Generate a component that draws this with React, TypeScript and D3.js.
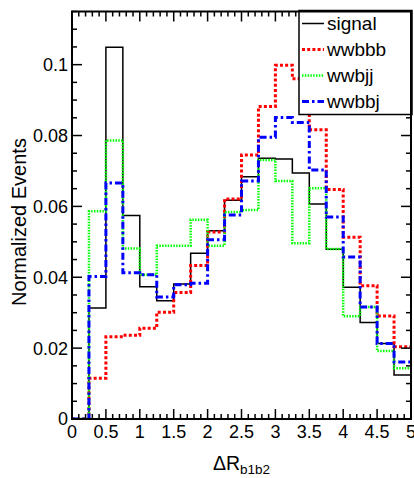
import React from "react";
import * as d3 from "d3";

const binEdges = [0, 0.25, 0.5, 0.75, 1, 1.25, 1.5, 1.75, 2, 2.25, 2.5, 2.75, 3, 3.25, 3.5, 3.75, 4, 4.25, 4.5, 4.75, 5];

const signal = [0, 0.0313, 0.1049, 0.0574, 0.0373, 0.0334, 0.0381, 0.0468, 0.0531, 0.0617, 0.0684, 0.0736, 0.0734, 0.0694, 0.0607, 0.0479, 0.0372, 0.0272, 0.0213, 0.0124];
const wwbbb = [0, 0.0115, 0.0232, 0.0236, 0.0256, 0.0301, 0.0357, 0.0433, 0.0528, 0.0621, 0.0745, 0.0882, 0.0998, 0.096, 0.0816, 0.0648, 0.0513, 0.0376, 0.0291, 0.0204];
const wwbjj = [0, 0.0586, 0.0786, 0.0481, 0.0407, 0.0489, 0.0489, 0.0562, 0.0489, 0.0584, 0.059, 0.0731, 0.0672, 0.0496, 0.0651, 0.048, 0.029, 0.0316, 0.0192, 0.0143];
const wwbbj = [0, 0.0402, 0.0666, 0.0413, 0.0407, 0.0344, 0.0379, 0.0383, 0.0506, 0.0576, 0.0672, 0.0795, 0.0851, 0.0837, 0.0703, 0.057, 0.0457, 0.0316, 0.0213, 0.0161];

const xTickLabels = ["0", "0.5", "1", "1.5", "2", "2.5", "3", "3.5", "4", "4.5", "5"];
const yTickLabels = ["0", "0.02", "0.04", "0.06", "0.08", "0.1"];

const seriesNames = ["signal", "wwbbb", "wwbjj", "wwbbj"];
const seriesData = [signal, wwbbb, wwbjj, wwbbj];

const styles = [
  { color: "#000000", width: 1.5, dash: "none" },
  { color: "#ff0000", width: 3, dash: "3 2.2" },
  { color: "#00ff00", width: 2.5, dash: "1.5 1.3" },
  { color: "#0000ff", width: 3, dash: "7 3 2.5 3" },
];

const W = 414;
const H = 478;
const X0 = 72, X1 = 411, Y0 = 419, Y1 = 11.5;
const FONT = "'Liberation Sans', Arial, Helvetica, sans-serif";

export default function App() {
  const x = d3.scaleLinear().domain([0, 5]).range([X0, X1]);
  const y = d3.scaleLinear().domain([0, 0.115]).range([Y0, Y1]);

  const line = d3
    .line<[number, number]>()
    .x((d) => x(d[0]))
    .y((d) => y(d[1]))
    .curve(d3.curveStepAfter);

  const paths = seriesData.map((vals) => {
    const pts: [number, number][] = vals.map((v, i) => [binEdges[i], v]);
    pts.push([binEdges[binEdges.length - 1], vals[vals.length - 1]]);
    return line(pts) || "";
  });

  const xMinor = d3.range(0, 51).map((i) => i / 10);
  const xMajor = xTickLabels.map((t) => +t);
  const yMinor = d3.range(0, 24).map((i) => i * 0.005).filter((v) => v <= 0.115);
  const yMajor = yTickLabels.map((t) => +t);

  const legX = 299, legY = 10.5, legW = 113, legH = 104;
  const legRows = [23.5, 49.5, 75.5, 101.5];

  return (
    <svg
      width={W}
      height={H}
      style={{ position: "absolute", left: 0, top: 0, background: "#fff" }}
      fontFamily={FONT}
    >
      <rect x={0} y={0} width={W} height={H} fill="#fff" />
      <defs>
        <clipPath id="plotclip">
          <rect x={X0} y={Y1} width={X1 - X0} height={Y0 - Y1} />
        </clipPath>
      </defs>
      <g clipPath="url(#plotclip)">
        {paths.map((p, i) => (
          <path
            key={i}
            d={p}
            fill="none"
            stroke={styles[i].color}
            strokeWidth={styles[i].width}
            strokeDasharray={styles[i].dash}
          />
        ))}
      </g>

      {/* ticks */}
      <g stroke="#000" strokeWidth={1.5}>
        {xMinor.map((v, i) => {
          const major = xMajor.some((m) => Math.abs(m - v) < 1e-9);
          const len = major ? 10 : 5;
          return (
            <g key={"xt" + i}>
              <line x1={x(v)} x2={x(v)} y1={Y0} y2={Y0 - len} />
              <line x1={x(v)} x2={x(v)} y1={Y1} y2={Y1 + len} />
            </g>
          );
        })}
        {yMinor.map((v, i) => {
          const major = yMajor.some((m) => Math.abs(m - v) < 1e-9);
          const len = major ? 10 : 5;
          return (
            <g key={"yt" + i}>
              <line x1={X0} x2={X0 + len} y1={y(v)} y2={y(v)} />
              <line x1={X1} x2={X1 - len} y1={y(v)} y2={y(v)} />
            </g>
          );
        })}
      </g>

      {/* legend */}
      <rect x={legX} y={legY} width={legW} height={legH} fill="#fff" stroke="#000" strokeWidth={1.5} />
      {seriesNames.map((n, i) => (
        <g key={"leg" + i}>
          <line
            x1={302}
            x2={324}
            y1={legRows[i]}
            y2={legRows[i]}
            stroke={styles[i].color}
            strokeWidth={styles[i].width}
            strokeDasharray={styles[i].dash}
          />
          <text x={327} y={legRows[i] + 6.5} fontSize={19} fill="#000">
            {n}
          </text>
        </g>
      ))}

      {/* frame */}
      <rect x={X0} y={Y1} width={X1 - X0} height={Y0 - Y1} fill="none" stroke="#000" strokeWidth={2} />

      {/* tick labels */}
      {xTickLabels.map((t, i) => (
        <text key={"xl" + i} x={x(+t)} y={437.5} fontSize={18} textAnchor="middle" fill="#000">
          {t}
        </text>
      ))}
      {yTickLabels.map((t, i) => (
        <text key={"yl" + i} x={68} y={y(+t) + 6.4} fontSize={18} textAnchor="end" fill="#000">
          {t}
        </text>
      ))}

      {/* axis titles */}
      <text x={(X0 + X1) / 2} y={470} fontSize={19.5} textAnchor="middle" fill="#000">
        ΔR
        <tspan fontSize={13.5} dy={4}>b1b2</tspan>
      </text>
      <text
        transform={`translate(26, 222) rotate(-90)`}
        fontSize={20}
        textAnchor="middle"
        fill="#000"
      >
        Normalized Events
      </text>
    </svg>
  );
}
